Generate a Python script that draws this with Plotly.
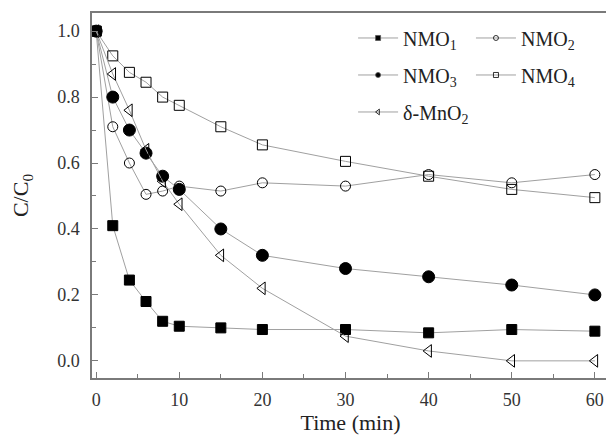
import plotly.graph_objects as go

time_min = [0, 2, 4, 6, 8, 10, 15, 20, 30, 40, 50, 60]
nmo1 = [1.0, 0.41, 0.245, 0.18, 0.12, 0.105, 0.10, 0.095, 0.095, 0.085, 0.095, 0.09]
nmo2 = [1.0, 0.71, 0.60, 0.505, 0.515, 0.53, 0.515, 0.54, 0.53, 0.565, 0.54, 0.565]
nmo3 = [1.0, 0.80, 0.70, 0.63, 0.56, 0.52, 0.40, 0.32, 0.28, 0.255, 0.23, 0.20]
nmo4 = [1.0, 0.925, 0.875, 0.845, 0.80, 0.775, 0.71, 0.655, 0.605, 0.56, 0.52, 0.495]
dmno2 = [1.0, 0.87, 0.76, 0.64, 0.545, 0.475, 0.32, 0.22, 0.075, 0.03, 0.0, 0.0]

names = ["NMO<sub>1</sub>", "NMO<sub>2</sub>", "NMO<sub>3</sub>", "NMO<sub>4</sub>", "δ-MnO<sub>2</sub>"]
series = [nmo1, nmo2, nmo3, nmo4, dmno2]
symbols = ["square", "circle-open", "circle", "square-open", "triangle-left-open"]
sizes = [10, 10, 12, 10, 11]
legend_ids = ["legend", "legend2", "legend", "legend2", "legend"]

LINE_COLOR = "#a0a0a0"
AXIS_COLOR = "#7a7a7a"
SERIF = "Liberation Serif"

fig = go.Figure()
for i, (nm, ys, sym, sz) in enumerate(zip(names, series, symbols, sizes)):
    fig.add_trace(go.Scatter(
        x=time_min, y=ys, name=nm, mode="lines+markers", showlegend=False,
        line=dict(color=LINE_COLOR, width=1),
        marker=dict(symbol=sym, size=sz, color="black",
                    line=dict(color="black", width=1)),
    ))
# legend-only entries with the small symbols of the reference legend
for i, (nm, sym, lg) in enumerate(zip(names, symbols, legend_ids)):
    fig.add_trace(go.Scatter(
        x=[None], y=[None], name=nm, mode="lines+markers",
        legend=lg, legendgroup="g%d" % i,
        line=dict(color=LINE_COLOR, width=1),
        marker=dict(symbol=sym, size=5, color="black",
                    line=dict(color="#555", width=0.8)),
    ))

axis_common = dict(
    showline=True, linecolor=AXIS_COLOR, linewidth=1.5, mirror=True,
    ticks="inside", ticklen=6, tickcolor=AXIS_COLOR, tickwidth=1.2,
    showgrid=False, zeroline=False,
    tickfont=dict(family=SERIF, size=18, color="#333"),
    title_font=dict(family=SERIF, size=22, color="#222"),
)

fig.update_xaxes(range=[-0.5, 61.7], tickvals=[0, 10, 20, 30, 40, 50, 60],
                 minor=dict(tickvals=[5, 15, 25, 35, 45, 55], ticks="inside", ticklen=4,
                            tickcolor=AXIS_COLOR),
                 ticklabelstandoff=5,
                 title_text="Time (min)", title_standoff=2, **axis_common)
fig.update_yaxes(range=[-0.052, 1.055], tickvals=[0, 0.2, 0.4, 0.6, 0.8, 1.0],
                 tickformat=".1f",
                 minor=dict(tickvals=[0.1, 0.3, 0.5, 0.7, 0.9], ticks="inside", ticklen=4,
                            tickcolor=AXIS_COLOR),
                 ticklabelstandoff=7,
                 title_text="C/C<sub>0</sub>", title_standoff=22, **axis_common)

legend_common = dict(orientation="v", yanchor="top", xanchor="left", y=0.985,
                     itemwidth=40, tracegroupgap=8,
                     font=dict(family=SERIF, size=20, color="#222"),
                     bgcolor="rgba(0,0,0,0)")

fig.update_layout(
    width=606, height=427,
    margin=dict(l=84, r=3, t=5, b=57),
    plot_bgcolor="white", paper_bgcolor="white",
    font=dict(family=SERIF, color="#222"),
    legend=dict(x=0.505, **legend_common),
    legend2=dict(x=0.733, **legend_common),
)

fig.write_html("out.html")
